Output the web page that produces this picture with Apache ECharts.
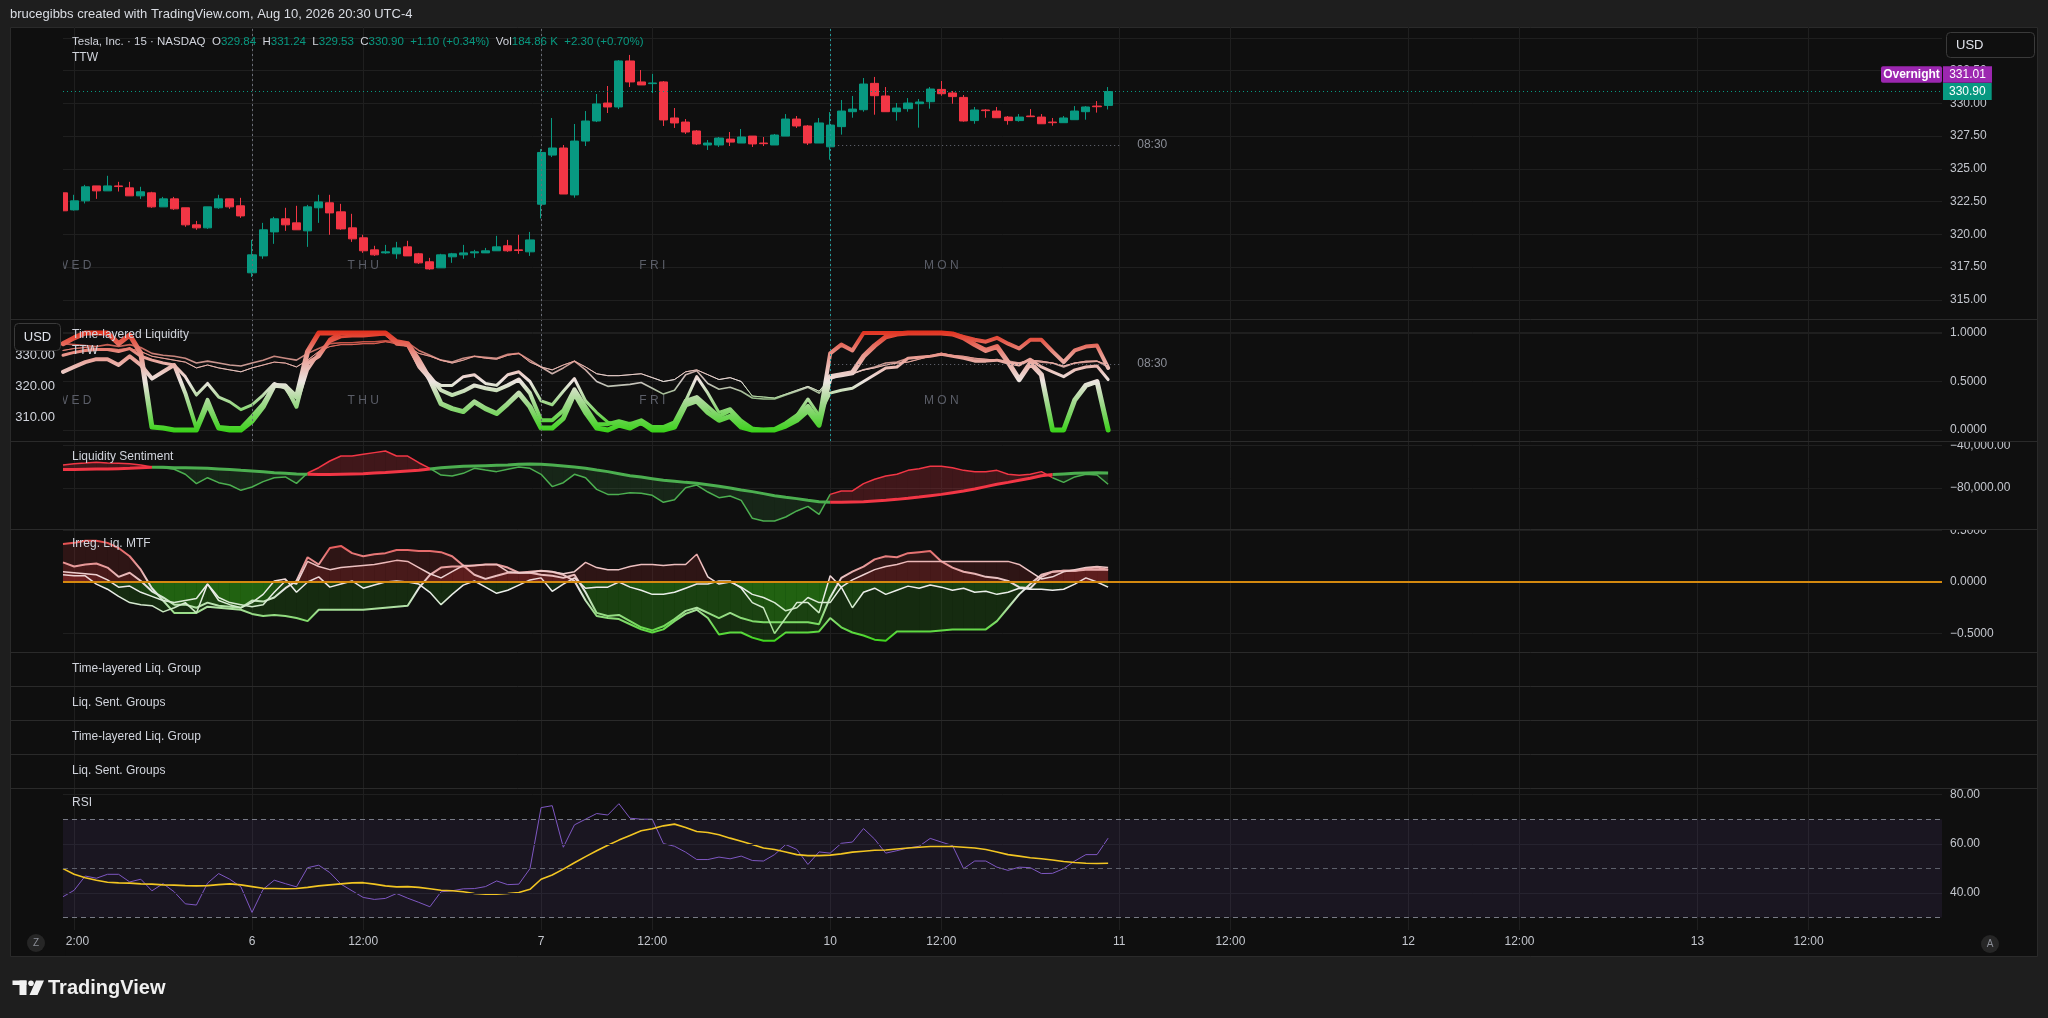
<!DOCTYPE html>
<html><head><meta charset="utf-8"><title>TSLA 15m</title>
<script src="https://cdn.jsdelivr.net/npm/echarts/dist/echarts.min.js"></script>
<style>html,body{margin:0;padding:0;background:#1e1e1e;overflow:hidden}#chart{width:2048px;height:1018px}</style>
</head><body><div id="chart"></div>
<script>
// ---------------- DATA ----------------
const slot0 = 9, lastSlot = 178;            // 15-minute bar slots (26 per regular session)
const tickSlots  = [10,26,36,52,62,78,88,104,114,130,140,156,166];
const tickLabels = ['12:00','6','12:00','7','12:00','10','12:00','11','12:00','12','12:00','13','12:00'];
const dayNameSlots = [10,36,62,88];
const dayNames = ['WED','THU','FRI','MON'];
const sessionSlots = [26,52,78];

const opens = [323.17,321.87,322.56,323.70,323.32,323.70,323.55,322.94,323.17,322.10,
322.71,322.03,320.73,320.50,322.03,322.71,322.18,317.07,318.36,320.19,
321.19,320.88,320.27,322.03,322.41,321.72,320.50,319.74,318.82,318.59,
318.52,319.05,318.52,317.91,317.45,318.29,318.44,318.59,318.59,318.75,
319.13,318.82,318.67,322.30,326.05,326.59,323.01,327.12,328.65,330.02,
329.72,333.23,331.63,331.50,331.63,328.88,328.57,327.89,326.82,326.82,
327.27,326.97,327.50,326.97,326.82,327.50,328.80,328.27,326.97,326.68,
328.22,329.36,329.51,331.52,330.56,329.36,329.59,329.97,330.12,331.06,
330.79,330.45,328.68,329.49,329.41,328.95,328.68,329.03,328.95,328.57,
328.52,328.75,329.36,329.79,329.84];
const closes = [321.80,322.56,323.63,323.32,323.70,323.65,322.94,323.25,322.10,322.71,
321.95,320.73,320.50,322.10,322.71,322.10,321.41,318.44,320.35,321.19,
320.73,320.35,322.10,322.48,321.64,320.42,319.66,318.75,318.44,318.67,
318.97,318.36,317.83,317.37,318.44,318.52,318.59,318.67,318.75,319.05,
318.75,318.77,319.58,326.25,326.59,323.08,327.12,328.65,329.95,329.72,
333.23,331.63,331.40,331.55,328.73,328.50,327.81,326.90,326.97,327.35,
327.04,327.43,326.90,326.92,327.58,328.80,328.27,326.97,328.50,328.34,
329.41,329.56,331.47,330.58,329.36,329.64,330.02,330.10,331.09,330.73,
330.51,328.65,329.49,329.44,328.90,328.68,328.95,328.98,328.44,328.52,
328.88,329.41,329.72,329.74,330.90];
const lows = [321.75,321.82,322.36,322.71,323.32,323.27,322.94,322.71,322.03,322.10,
321.87,320.58,320.35,320.42,321.95,321.95,321.26,316.75,318.14,319.28,
320.27,320.35,319.05,320.88,319.97,320.35,319.43,318.59,318.36,318.52,
318.14,318.36,317.75,317.30,317.45,317.83,318.14,318.21,318.59,318.75,
318.67,318.52,318.36,321.22,325.90,323.08,322.80,326.74,328.57,329.26,
329.56,331.24,331.40,330.79,328.27,328.12,327.66,326.82,326.44,326.67,
326.74,326.97,326.67,326.74,326.82,327.50,328.12,326.82,326.97,325.70,
327.61,328.90,329.36,329.13,329.36,328.68,329.36,328.14,329.59,330.58,
329.97,328.60,328.44,328.90,328.90,328.37,328.60,328.98,328.44,328.29,
328.52,328.75,328.75,329.29,329.53];
const highs = [323.25,323.02,323.78,323.70,324.47,324.01,324.01,323.63,323.25,322.86,
322.86,322.03,321.03,322.10,323.02,322.71,322.79,319.58,320.88,321.34,
322.03,322.18,322.25,323.02,323.02,322.33,321.57,319.97,319.13,319.20,
319.43,319.51,318.59,318.21,318.52,318.59,319.20,318.82,318.97,319.89,
319.58,319.97,320.19,326.51,328.88,326.82,328.42,329.41,330.71,331.32,
333.30,333.69,332.54,332.24,331.70,329.64,328.80,327.96,327.20,327.43,
327.81,328.04,327.50,327.43,327.66,329.18,329.03,328.34,328.88,329.33,
330.25,330.56,331.93,332.01,331.24,330.02,330.40,330.33,331.24,331.70,
330.94,330.63,329.72,329.56,329.72,329.03,329.18,329.56,329.18,328.88,
329.03,329.79,329.79,330.17,331.24];
const overnightPrice = 331.01;
const priceSessionLevel = 326.82;
const legendTitle = 'Tesla, Inc. · 15 · NASDAQ';
const legendChange = '+1.10 (+0.34%)';
const legendVol = '184.86 K';
const legendVolChange = '+2.30 (+0.70%)';

// Time-layered Liquidity (5 layers)
const liq1 = [0.89,0.95,1.0,1.0,1.0,0.89,0.98,0.79,0.03,0.02,0.0,0.0,0.0,0.27,0.02,0.0,0.0,0.09,0.24,0.46,0.45,0.34,0.81,1.0,1.0,1.0,1.0,1.0,1.0,1.0,0.91,0.89,0.72,0.52,0.27,0.22,0.19,0.29,0.22,0.17,0.27,0.38,0.24,0.02,0.02,
0.12,0.38,0.18,0.02,0.0,0.05,0.02,0.08,0.0,0.0,0.03,0.26,0.30,0.18,0.10,0.14,0.03,0.0,0.0,0.0,0.04,0.10,0.20,0.05,
0.55,0.57,0.59,0.76,0.87,0.96,0.99,1.0,1.0,1.0,1.0,0.99,0.95,0.88,0.82,0.86,0.70,0.52,0.69,0.57,0.0,0.0,0.31,0.46,0.50,0.0];
const liq2 = [0.60,0.65,0.70,0.73,0.73,0.67,0.76,0.67,0.53,0.60,0.67,0.38,0.02,0.31,0.03,0.02,0.02,0.14,0.27,0.46,0.46,0.24,0.69,0.76,0.93,1.0,1.0,1.0,1.0,1.0,0.89,0.88,0.67,0.55,0.41,0.36,0.40,0.46,0.43,0.41,0.46,0.52,0.38,0.10,0.10,
0.20,0.42,0.24,0.06,0.06,0.09,0.06,0.10,0.03,0.03,0.08,0.30,0.34,0.24,0.14,0.20,0.06,0.01,0.0,0.01,0.07,0.15,0.25,0.10,
0.79,0.88,0.82,1.0,1.0,1.0,1.0,1.0,1.0,1.0,1.0,0.99,0.96,0.93,0.91,0.95,0.89,0.84,0.93,0.93,0.81,0.70,0.82,0.86,0.87,0.64];
const liq3 = [0.77,0.80,0.82,0.83,0.83,0.81,0.84,0.76,0.72,0.69,0.67,0.55,0.36,0.48,0.34,0.29,0.21,0.26,0.36,0.48,0.43,0.26,0.62,0.79,0.91,0.96,0.97,0.97,0.98,0.99,0.91,0.88,0.65,0.52,0.46,0.46,0.55,0.57,0.48,0.46,0.57,0.60,0.50,0.30,0.26,
0.40,0.53,0.30,0.18,0.08,0.05,0.07,0.06,0.03,0.01,0.05,0.30,0.55,0.38,0.18,0.22,0.10,0.02,0.0,0.0,0.06,0.15,0.32,0.15,
0.38,0.41,0.43,0.50,0.57,0.64,0.65,0.74,0.75,0.76,0.78,0.76,0.74,0.71,0.71,0.72,0.69,0.67,0.73,0.65,0.60,0.55,0.62,0.65,0.66,0.52];
const liq4 = [0.89,0.88,0.87,0.86,0.88,0.86,0.88,0.85,0.79,0.77,0.76,0.74,0.69,0.71,0.69,0.67,0.66,0.69,0.72,0.76,0.74,0.72,0.79,0.84,0.89,0.90,0.90,0.91,0.91,0.92,0.91,0.90,0.82,0.77,0.72,0.70,0.74,0.76,0.75,0.74,0.78,0.79,0.72,0.65,0.58,
0.64,0.71,0.62,0.50,0.45,0.46,0.47,0.49,0.43,0.37,0.41,0.57,0.61,0.48,0.42,0.44,0.40,0.33,0.32,0.32,0.36,0.40,0.44,0.38,
0.52,0.57,0.58,0.62,0.65,0.69,0.70,0.74,0.75,0.76,0.79,0.76,0.75,0.73,0.72,0.72,0.71,0.69,0.72,0.70,0.69,0.65,0.69,0.70,0.71,0.65];
const liq5 = [0.82,0.84,0.85,0.84,0.84,0.83,0.84,0.81,0.76,0.74,0.72,0.70,0.64,0.67,0.64,0.62,0.60,0.64,0.67,0.70,0.69,0.65,0.72,0.81,0.86,0.88,0.88,0.89,0.89,0.91,0.89,0.86,0.79,0.76,0.72,0.69,0.72,0.76,0.74,0.73,0.77,0.79,0.70,0.65,0.62,
0.67,0.71,0.65,0.58,0.56,0.56,0.57,0.58,0.54,0.50,0.52,0.60,0.62,0.57,0.52,0.54,0.50,0.35,0.34,0.33,0.37,0.41,0.45,0.40,
0.53,0.57,0.58,0.62,0.64,0.67,0.69,0.70,0.73,0.76,0.79,0.77,0.76,0.74,0.73,0.72,0.70,0.69,0.72,0.71,0.69,0.66,0.69,0.71,0.71,0.67];
const liqSessionLevel = 0.68;

// Liquidity Sentiment
const sentSlow = [-62700,-62700,-62400,-62100,-62100,-61800,-61500,-60900,-60500,-60500,-60900,-60900,-61200,-61500,-62100,-62700,-63400,-64000,-64600,-65600,-66200,-66800,-67100,-67400,-67400,-67100,-66800,-66500,-65900,-65300,-64600,-64000,-63400,-62100,-60900,-60200,-59600,-59300,-59000,-58700,-58400,-57700,-57400,-57700,-58400,-59300,-60200,-61500,-63100,-64600,-66500,-68400,-69600,-71200,-72800,-73700,-74700,-75600,-76900,-78400,-80000,-81900,-83400,-85300,-87200,-88800,-90000,-91600,-92900,-93500,-93500,-93200,-92900,-92200,-91600,-90700,-89700,-88500,-87200,-86000,-84400,-82800,-80900,-78700,-76500,-74700,-72800,-70900,-68400,-67400,-66800,-66200,-65900,-65600,-65900];
const sentFast = [-58400,-57100,-56500,-55800,-56500,-56800,-57100,-58400,-60200,-60900,-62400,-67100,-75900,-70300,-75000,-77200,-82200,-79100,-74000,-70300,-69600,-75600,-65900,-60900,-54600,-49900,-49900,-48300,-46700,-45200,-49900,-49900,-56200,-61500,-67800,-68700,-66200,-61500,-63100,-64600,-62400,-60200,-61500,-67100,-78700,-75000,-67100,-70300,-81300,-86000,-86000,-84400,-85000,-86900,-93500,-91000,-79700,-77200,-83800,-89100,-87500,-91600,-108500,-111100,-111100,-107300,-101600,-97300,-104800,-86000,-82800,-82800,-75900,-71800,-68700,-67100,-63400,-61800,-59600,-59600,-60900,-63400,-64600,-64600,-63400,-67100,-68100,-67100,-64600,-70300,-74700,-69600,-67100,-67800,-76500];

// Irreg. Liq. MTF
const mtfSlow = [0.37,0.38,0.40,0.40,0.38,0.33,0.25,0.12,
-0.06,-0.18,-0.30,-0.30,-0.30,-0.24,-0.25,-0.26,-0.27,-0.31,-0.33,-0.32,-0.33,-0.35,
-0.38,-0.27,-0.27,-0.27,-0.27,-0.27,-0.26,-0.25,-0.24,-0.23,-0.06,0.07,0.14,0.15,0.15,0.16,0.17,0.17,0.14,0.09,0.10,0.11,0.10,0.07,0.01,
-0.18,-0.33,-0.35,-0.36,-0.41,-0.46,-0.49,-0.46,-0.38,-0.31,-0.27,-0.35,-0.51,-0.49,-0.49,-0.54,-0.57,-0.57,-0.49,-0.49,-0.49,-0.48,
-0.35,-0.44,-0.49,-0.52,-0.56,-0.57,-0.48,-0.48,-0.48,-0.48,-0.47,-0.46,-0.46,-0.46,-0.46,-0.38,-0.25,-0.12,-0.02,0.07,0.10,0.11,0.11,0.12,0.12,0.12];
const mtfRed = [0.19,0.15,0.17,0.18,0.14,0.05,0.09,0.01,
-0.09,-0.15,-0.22,-0.22,-0.25,-0.20,-0.23,-0.24,-0.25,-0.18,-0.19,-0.15,-0.06,0.01,
0.24,0.17,0.33,0.35,0.28,0.25,0.27,0.28,0.31,0.31,0.30,0.30,0.29,0.25,0.16,0.07,0.03,0.06,0.09,0.09,0.09,0.07,0.06,0.04,0.07,
-0.10,-0.30,-0.33,-0.32,-0.38,-0.44,-0.47,-0.43,-0.36,-0.28,-0.25,-0.30,-0.35,-0.30,-0.35,-0.38,-0.39,-0.39,-0.39,-0.39,-0.39,-0.41,
-0.15,0.04,0.10,0.15,0.22,0.25,0.24,0.28,0.29,0.30,0.20,0.14,0.10,0.08,0.05,0.04,0.01,-0.05,-0.06,0.05,0.10,0.11,0.11,0.13,0.14,0.12];
const mtfPink = [0.10,0.09,0.08,0.07,0.02,-0.05,-0.04,-0.10,
-0.14,-0.18,-0.20,-0.18,-0.16,-0.02,-0.15,-0.20,-0.22,-0.24,-0.22,-0.10,0.01,-0.02,
0.20,0.15,0.12,0.14,0.15,0.16,0.17,0.19,0.21,0.20,0.14,0.08,0.04,0.10,0.16,0.16,0.17,0.17,0.10,0.09,0.09,0.11,0.10,0.08,0.10,
0.19,0.14,0.12,0.12,0.15,0.17,0.17,0.16,0.17,0.17,0.27,0.05,-0.02,0.00,-0.05,-0.12,-0.15,-0.20,-0.28,-0.25,-0.15,-0.20,
-0.20,-0.05,0.02,0.07,0.12,0.15,0.17,0.20,0.20,0.20,0.20,0.20,0.20,0.20,0.20,0.20,0.20,0.17,0.10,0.03,0.05,0.10,0.12,0.14,0.15,0.14];
const mtfWhite = [0.07,0.06,0.06,-0.02,-0.07,-0.14,-0.20,-0.22,
-0.23,-0.29,-0.25,-0.20,-0.30,-0.02,-0.18,-0.22,-0.25,-0.20,-0.12,0.01,0.03,-0.10,
0.00,0.05,-0.05,-0.02,0.01,-0.06,-0.03,0.00,0.01,0.00,-0.02,-0.10,-0.22,-0.12,-0.03,0.01,-0.05,-0.11,-0.08,-0.03,0.02,0.04,-0.09,-0.02,0.04,
-0.06,-0.05,-0.05,0.00,-0.05,-0.08,-0.12,-0.12,-0.10,-0.06,-0.02,-0.02,0.01,0.01,-0.06,-0.20,-0.25,-0.50,-0.35,-0.20,-0.20,-0.30,
0.06,-0.05,-0.25,-0.10,-0.06,-0.12,-0.08,-0.04,-0.06,-0.03,-0.05,-0.08,-0.06,-0.10,-0.09,-0.12,-0.10,-0.06,-0.07,-0.07,-0.08,-0.07,-0.02,0.04,0.00,-0.05];

// RSI (14) and its moving average
const rsi = [38.5,41.1,46.9,46.0,47.6,47.6,44.5,45.6,40.9,43.8,
40.5,35.6,35.1,44.0,47.9,45.6,42.5,32.1,41.5,45.2,
43.8,42.5,50.3,51.3,48.3,43.6,40.9,38.2,37.4,37.8,
39.8,37.9,36.2,34.4,40.5,40.9,41.7,41.8,42.6,44.9,
43.4,43.6,49.9,74.7,75.5,58.6,67.7,70.0,72.3,71.7,
76.3,70.4,70.0,70.0,60.1,59.0,56.6,53.6,53.6,54.6,
53.9,55.0,53.2,53.0,55.6,59.7,57.7,51.6,56.7,56.2,
60.2,60.7,66.2,61.9,56.2,57.2,58.3,59.0,62.2,60.7,
59.3,49.9,53.0,53.0,50.5,49.2,50.5,50.3,47.9,48.0,
49.9,53.0,55.6,55.6,62.3];
const rsiMA = [49.9,47.6,46.2,45.2,44.4,44.1,44.0,43.7,43.6,43.3,
43.2,43.0,42.9,43.0,43.4,43.7,43.3,42.6,41.9,41.8,
41.7,41.8,42.3,42.9,43.3,43.7,44.1,44.2,43.6,42.9,
42.5,42.6,42.3,41.7,41.1,40.9,40.5,39.8,39.5,39.5,
39.8,40.2,41.5,45.6,47.3,49.7,52.3,54.8,57.2,59.4,
61.5,63.4,65.3,66.1,67.3,68.0,66.6,65.0,64.6,63.7,
62.3,61.0,59.7,58.3,57.7,56.7,55.6,55.2,55.2,55.4,
55.9,56.6,57.0,57.4,57.5,57.9,58.3,58.6,58.9,58.9,
58.9,58.6,58.3,57.7,56.7,55.6,55.0,54.3,53.9,53.4,
52.8,52.4,52.1,52.0,52.1];

// ---------------- CHART ----------------
const FONT = '"Liberation Sans", Arial, sans-serif';
const UP = '#089981', DN = '#f23645';
const gridColor = '#1f1f1f';
const axisText = '#c3c6cd';
const chart = echarts.init(document.getElementById('chart'), null, {renderer: 'canvas'});

const cats = [];
for (let s = slot0; s <= lastSlot; s++) cats.push(String(s));
const isTick = (idx, v) => tickSlots.indexOf(+v) >= 0;
const labelFor = v => { const k = tickSlots.indexOf(+v); return k < 0 ? '' : tickLabels[k]; };
const ci = s => s - slot0;   // slot -> category index

const panes = [
  {top: 37.75, height: 22.5 * 13.11}, // 0 price
  {top: 333, height: 97},             // 1 time-layered liquidity
  {top: 355, height: 62},             // 2 left overlay scale
  {top: 445.5, height: 85},           // 3 sentiment
  {top: 530.5, height: 103},          // 4 mtf
  {top: 794.6, height: 147.6},        // 5 rsi
  {top: 27, height: 903},             // 6 time axis / vertical grid
  {top: 27, height: 414}              // 7 session break lines
];
const grid = panes.map(p => ({left: 63, right: 106, top: p.top, height: p.height, containLabel: false, outerBoundsMode: 'none'}));
const xAxis = panes.map((p, i) => i === 6 ? {
  type: 'category', gridIndex: i, data: cats, boundaryGap: false,
  axisLine: {show: false}, axisTick: {show: false},
  axisLabel: {show: true, interval: isTick, formatter: labelFor, color: axisText, fontSize: 12, fontFamily: FONT, margin: 6},
  splitLine: {show: true, interval: isTick, lineStyle: {color: gridColor, width: 1}}
} : {type: 'category', gridIndex: i, data: cats, boundaryGap: false, show: false});

const yBase = (i, o) => Object.assign({
  type: 'value', gridIndex: i, position: 'right',
  axisLine: {show: false}, axisTick: {show: false},
  splitLine: {show: true, lineStyle: {color: gridColor, width: 1}},
  axisLabel: {color: axisText, fontSize: 12, fontFamily: FONT, margin: 8}
}, o);
const minus = s => s.replace('-', '\u2212');
const lab = o => Object.assign({color: axisText, fontSize: 12, fontFamily: FONT, margin: 8}, o);
const yAxis = [
  yBase(0, {min: 312.5, max: 335, interval: 2.5, axisLabel: lab({showMinLabel: false, formatter: v => v.toFixed(2)})}),
  yBase(1, {min: 0, max: 1, interval: 0.5, axisLabel: lab({formatter: v => v.toFixed(4)})}),
  yBase(2, {position: 'left', min: 310, max: 330, interval: 10, splitLine: {show: false}, axisLabel: lab({color: '#d1d4dc', fontSize: 13, formatter: v => v.toFixed(2)})}),
  yBase(3, {min: -120000, max: -40000, interval: 40000, axisLabel: lab({showMinLabel: false,
    formatter: v => minus(v.toLocaleString('en-US', {minimumFractionDigits: 2, maximumFractionDigits: 2}))})}),
  yBase(4, {min: -0.5, max: 0.5, interval: 0.5, axisLabel: lab({formatter: v => minus(v.toFixed(4))})}),
  yBase(5, {min: 20, max: 80, interval: 20, splitLine: {show: false}, axisLabel: lab({showMinLabel: false, formatter: v => v.toFixed(2)})}),
  {type: 'value', gridIndex: 6, show: false, min: 0, max: 1},
  {type: 'value', gridIndex: 7, show: false, min: 0, max: 1}
];

const series = [];
const add = s => { series.push(Object.assign({animation: false}, s)); return series.length - 1; };
const last = closes.length - 1;

// fill between two value arrays, coloured by which one is on top
function bandFill(axisIdx, a, b, colUp, colDn, z) {
  return {
    type: 'custom', xAxisIndex: axisIdx, yAxisIndex: axisIdx, silent: true, z: z || 1,
    data: a.slice(0, -1).map((v, k) => [k, v]),
    renderItem: (params, api) => {
      const k = params.dataIndex;
      const a0 = api.coord([k, a[k]]), a1 = api.coord([k + 1, a[k + 1]]);
      const b0 = api.coord([k, b[k]]), b1 = api.coord([k + 1, b[k + 1]]);
      const d0 = a[k] - b[k], d1 = a[k + 1] - b[k + 1];
      const col = d => d >= 0 ? colUp : colDn;
      if (d0 * d1 >= 0) return {type: 'polygon', shape: {points: [a0, a1, b1, b0]}, style: {fill: col(d0 + d1)}};
      const t = d0 / (d0 - d1);
      const m = [a0[0] + (a1[0] - a0[0]) * t, a0[1] + (a1[1] - a0[1]) * t];
      return {type: 'group', children: [
        {type: 'polygon', shape: {points: [a0, m, b0]}, style: {fill: col(d0)}},
        {type: 'polygon', shape: {points: [m, a1, b1]}, style: {fill: col(d1)}}]};
    }
  };
}

// price candles
add({
  type: 'candlestick', xAxisIndex: 0, yAxisIndex: 0, barWidth: 8.6,
  data: opens.map((o, k) => [o, closes[k], lows[k], highs[k]]),
  itemStyle: {color: UP, color0: DN, borderColor: UP, borderColor0: DN, borderColorDoji: DN, borderWidth: 1},
  markLine: {silent: true, symbol: 'none', animation: false, data: [
    {yAxis: closes[last], lineStyle: {type: [1, 3], color: UP, width: 1},
     label: {show: true, position: 'end', distance: 1, formatter: closes[last].toFixed(2), color: '#ffffff', backgroundColor: UP,
       padding: [3, 6, 2, 6], fontSize: 12, fontFamily: FONT}},
    [{coord: [ci(78), priceSessionLevel], lineStyle: {type: [1, 3], color: '#6a6d78', width: 1},
      label: {show: true, position: 'end', distance: 18, formatter: '08:30', color: '#8a8d96', fontSize: 12, fontFamily: FONT}},
     {coord: [ci(104), priceSessionLevel]}]
  ]}
});

// time-layered liquidity
const liqLines = [liq5, liq4, liq3, liq2, liq1];
const liqWidths = [1, 1.6, 3, 4, 5];
const liqIdx = liqLines.map((d, k) => add({
  type: 'line', xAxisIndex: 1, yAxisIndex: 1, data: d, symbol: 'none', clip: false,
  lineStyle: {width: liqWidths[k], opacity: k < 2 ? 0.85 : 1, cap: 'round', join: 'round'},
  markLine: k === 0 ? {silent: true, symbol: 'none', animation: false, data: [
    [{coord: [ci(78), liqSessionLevel], lineStyle: {type: [1, 3], color: '#6a6d78', width: 1},
      label: {show: true, position: 'end', distance: 18, formatter: '08:30', color: '#8a8d96', fontSize: 12, fontFamily: FONT}},
     {coord: [ci(104), liqSessionLevel]}]]} : undefined
}));

// liquidity sentiment
const segUp = sentFast.slice(0, -1).map((v, k) => (v + sentFast[k + 1]) > (sentSlow[k] + sentSlow[k + 1]));
const pick = (vals, want) => vals.map((v, k) => ((k > 0 && segUp[k - 1] === want) || (k < segUp.length && segUp[k] === want)) ? v : '-');
add(bandFill(3, sentFast, sentSlow, 'rgba(242,54,69,0.22)', 'rgba(76,175,80,0.15)', 1));
[[sentFast, 1.5], [sentSlow, 3]].forEach(([vals, w]) => {
  add({type: 'line', xAxisIndex: 3, yAxisIndex: 3, data: pick(vals, false), symbol: 'none', lineStyle: {color: '#4caf50', width: w}, z: 3});
  add({type: 'line', xAxisIndex: 3, yAxisIndex: 3, data: pick(vals, true), symbol: 'none', lineStyle: {color: DN, width: w}, z: 3});
});

// irregular liquidity MTF
const mtfLines = [mtfSlow, mtfRed, mtfPink, mtfWhite];
const zeroLevel = mtfSlow.map(() => 0);
mtfLines.forEach(d => add(bandFill(4, d, zeroLevel, 'rgba(200,52,52,0.17)', 'rgba(50,165,22,0.19)', 1)));
const mtfWidths = [2, 2, 1.5, 1.5];
const mtfLineIdx = mtfLines.map((d, k) => add({
  type: 'line', xAxisIndex: 4, yAxisIndex: 4, data: d, symbol: 'none', clip: false, z: 3,
  lineStyle: {width: mtfWidths[k]},
  markLine: k === 0 ? {silent: true, symbol: 'none', animation: false, label: {show: false},
    data: [{yAxis: 0, lineStyle: {type: 'solid', color: '#d4890f', width: 2}}]} : undefined
}));

// RSI
add({
  type: 'line', xAxisIndex: 5, yAxisIndex: 5, data: rsi, symbol: 'none', lineStyle: {color: '#7e57c2', width: 1}, z: 3,
  markArea: {silent: true, itemStyle: {color: 'rgba(126,87,194,0.10)'}, data: [[{yAxis: 30}, {yAxis: 70}]]},
  markLine: {silent: true, symbol: 'none', animation: false, label: {show: false}, data: [
    {yAxis: 80, lineStyle: {type: 'solid', color: gridColor, width: 1}},
    {yAxis: 60, lineStyle: {type: 'solid', color: '#26232f', width: 1}},
    {yAxis: 40, lineStyle: {type: 'solid', color: '#26232f', width: 1}},
    {yAxis: 70, lineStyle: {type: [5, 4], color: '#787b86', width: 1}},
    {yAxis: 50, lineStyle: {type: [5, 4], color: '#5d606b', width: 1}},
    {yAxis: 30, lineStyle: {type: [5, 4], color: '#787b86', width: 1}}]}
});
add({type: 'line', xAxisIndex: 5, yAxisIndex: 5, data: rsiMA, symbol: 'none', lineStyle: {color: '#f2c522', width: 1.6}, z: 4});

// session breaks
add({
  type: 'line', xAxisIndex: 7, yAxisIndex: 7, data: cats.map(() => null), symbol: 'none', silent: true,
  markLine: {silent: true, symbol: 'none', animation: false, label: {show: false},
    data: sessionSlots.map((s, k) => ({xAxis: ci(s), lineStyle: {type: [2, 3], color: k === 2 ? '#22999a' : '#6a6d78', width: 1}}))}
});

const visualMap = [
  {type: 'continuous', show: false, seriesIndex: liqIdx, dimension: 1, min: -0.05, max: 1.05,
   inRange: {color: ['#2fd10d', '#8fd77a', '#ece4e0', '#e9968c', '#e0230f']}},
  {type: 'continuous', show: false, seriesIndex: [mtfLineIdx[0], mtfLineIdx[1]], dimension: 1, min: -0.6, max: 0.45,
   inRange: {color: ['#36d612', '#8fdc7c', '#e8e8e8', '#e89292', '#e43a3a']}},
  {type: 'continuous', show: false, seriesIndex: [mtfLineIdx[2], mtfLineIdx[3]], dimension: 1, min: -0.6, max: 0.45,
   inRange: {color: ['#7fd968', '#c0e6b5', '#eeeeee', '#ecb9b9', '#e38383']}}
];

chart.setOption({
  backgroundColor: '#1e1e1e', animation: false,
  textStyle: {fontFamily: FONT},
  grid, xAxis, yAxis, series, visualMap
});

// ---------------- OVERLAY TEXT / FRAME ----------------
const G = [];
const txt = (x, y, text, o = {}) => G.push({type: 'text', silent: true, z: o.z ?? 50,
  style: {x, y, text, fill: o.fill || '#d1d4dc', fontSize: o.size || 12, fontFamily: FONT, fontWeight: o.weight || 'normal',
    align: o.align || 'left', verticalAlign: 'middle', textAlign: o.align || 'left', textVerticalAlign: 'middle'}});
const rect = (x, y, w, h, o = {}) => G.push({type: 'rect', silent: true, z: o.z ?? 50,
  shape: {x, y, width: w, height: h, r: o.r || 0}, style: {fill: o.fill || 'none', stroke: o.stroke || null, lineWidth: o.lw || 1}});
const hline = (y, x1, x2, col, z) => G.push({type: 'line', silent: true, z: z ?? 45, shape: {x1, y1: y, x2, y2: y}, style: {stroke: col, lineWidth: 1}});

rect(10.5, 27.5, 2027, 929, {fill: '#0f0f0f', stroke: '#2a2a2a', z: -10});
txt(10, 14, 'brucegibbs created with TradingView.com, Aug 10, 2026 20:30 UTC-4', {size: 13, fill: '#dadde4'});

const pxSlot = s => chart.convertToPixel({xAxisIndex: 0}, ci(s));
dayNames.forEach((d, k) => {
  const x = pxSlot(dayNameSlots[k]);
  const t = d.split('').join(' ');
  txt(x, 266, t, {fill: '#5b5e68', size: 12, align: 'center', z: 1});
  txt(x, 401, t, {fill: '#5b5e68', size: 12, align: 'center', z: 1});
});

rect(11, 28, 52, 290.5, {fill: '#0f0f0f', z: 40});
rect(11, 394, 52, 15, {fill: '#0f0f0f', z: 40});
rect(11, 931, 54.5, 25, {fill: '#0f0f0f', z: 40});
rect(1943, 520, 94, 9, {fill: '#0f0f0f', z: 40});
rect(1943, 436, 94, 5, {fill: '#0f0f0f', z: 40});

[319, 441, 529, 652, 686, 720, 754, 788].forEach(y => hline(y + 0.5, 11, 2037, '#2a2a2a'));

// symbol legend as a single rich-text line
const LS = 11.5;
const legendText = '{t|' + legendTitle + '}  {k|O}{v|' + opens[last].toFixed(2) + '}  {k|H}{v|' + highs[last].toFixed(2) +
  '}  {k|L}{v|' + lows[last].toFixed(2) + '}  {k|C}{v|' + closes[last].toFixed(2) + '}  {v|' + legendChange +
  '}  {k|Vol}{v|' + legendVol + '}  {v|' + legendVolChange + '}';
G.push({type: 'text', silent: true, z: 50, style: {x: 72, y: 42, text: legendText, verticalAlign: 'middle', textVerticalAlign: 'middle',
  fontSize: LS, fontFamily: FONT, fill: '#d1d4dc',
  rich: {t: {fill: '#d1d4dc', fontSize: LS, fontFamily: FONT}, k: {fill: '#d1d4dc', fontSize: LS, fontFamily: FONT}, v: {fill: UP, fontSize: LS, fontFamily: FONT}}}});
txt(72, 58, 'TTW');
txt(72, 335, 'Time-layered Liquidity');
txt(72, 351, 'TTW');
txt(72, 457, 'Liquidity Sentiment');
txt(72, 544, 'Irreg. Liq. MTF');
txt(72, 669, 'Time-layered Liq. Group');
txt(72, 703, 'Liq. Sent. Groups');
txt(72, 737, 'Time-layered Liq. Group');
txt(72, 771, 'Liq. Sent. Groups');
txt(72, 803, 'RSI');

rect(14.5, 323.5, 46, 27, {fill: '#0f0f0f', stroke: '#3a3a3a', r: 4, z: 55});
txt(37.5, 337, 'USD', {align: 'center', size: 13, z: 56, fill: '#e0e3eb'});
rect(1946.5, 32.5, 88, 25, {fill: '#0f0f0f', stroke: '#3a3a3a', r: 4, z: 55});
txt(1956, 45, 'USD', {size: 13, z: 56, fill: '#e0e3eb'});

const yLast = chart.convertToPixel({yAxisIndex: 0}, closes[last]);
const yOv = yLast - 17;
rect(1881, yOv - 8.2, 61, 16.4, {fill: '#9c27b0', r: 2, z: 55});
txt(1911.5, yOv + 0.5, 'Overnight', {align: 'center', size: 12, weight: 'bold', fill: '#ffffff', z: 56});
rect(1943, yOv - 8.2, 49, 16.4, {fill: '#9c27b0', z: 55});
txt(1967.5, yOv + 0.5, overnightPrice.toFixed(2), {align: 'center', size: 12, fill: '#ffffff', z: 56});

G.push({type: 'circle', silent: true, z: 55, shape: {cx: 36, cy: 943, r: 9}, style: {fill: '#262626'}});
txt(36, 943.5, 'Z', {align: 'center', size: 10, fill: '#8a8d96', z: 56});
G.push({type: 'circle', silent: true, z: 55, shape: {cx: 1990, cy: 944, r: 9}, style: {fill: '#262626'}});
txt(1990, 944.5, 'A', {align: 'center', size: 10, fill: '#8a8d96', z: 56});

rect(12.5, 980.5, 14, 4.5, {fill: '#f0f0f0', z: 50});
rect(19.5, 980.5, 7, 14.5, {fill: '#f0f0f0', z: 50});
G.push({type: 'circle', silent: true, z: 50, shape: {cx: 31, cy: 983.2, r: 2.8}, style: {fill: '#f0f0f0'}});
G.push({type: 'polygon', silent: true, z: 50, shape: {points: [[36, 980.5], [44, 980.5], [37.5, 995], [29.5, 995]]}, style: {fill: '#f0f0f0'}});
txt(48, 988, 'TradingView', {size: 20, weight: 'bold', fill: '#f0f0f0'});

chart.setOption({graphic: {elements: G}});
</script></body></html>
